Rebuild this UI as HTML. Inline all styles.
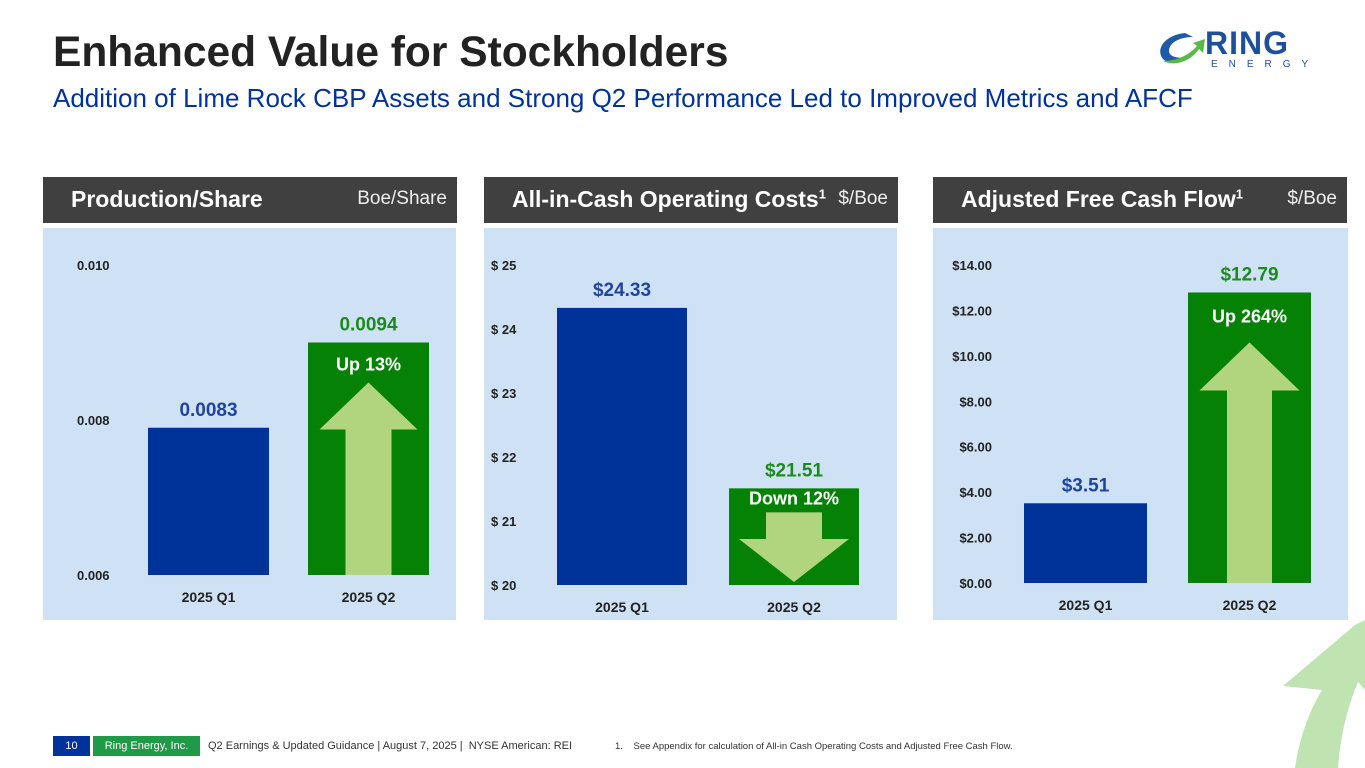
<!DOCTYPE html>
<html><head><meta charset="utf-8">
<style>
body{margin:0;width:1365px;height:768px;overflow:hidden;background:#fff;font-family:"Liberation Sans",sans-serif;position:relative}
.abs{position:absolute}
.hdr{position:absolute;top:177px;height:46px;background:#404040;color:#fff}
.hdr .t{position:absolute;left:28px;top:9px;font-size:23px;font-weight:bold}
.hdr .u{position:absolute;right:10px;top:11px;font-size:19px;color:#eee}
.hdr sup{font-size:13px}
.panel{position:absolute;top:228px;height:392px;background:#cfe2f5}
</style></head><body>
<div class="abs" style="left:53px;top:29px;font-size:42.5px;font-weight:bold;color:#222">Enhanced Value for Stockholders</div>
<div class="abs" style="left:53px;top:83px;font-size:26px;color:#003399">Addition of Lime Rock CBP Assets and Strong Q2 Performance Led to Improved Metrics and AFCF</div>
<div class="abs" style="left:1155px;top:27px;width:160px;height:45px">
<svg width="70" height="45" style="position:absolute;left:0;top:0"><path d="M30 6 C10 8 0 22 8 32 C14 38 26 36 34 30 C24 32 14 30 14 24 C14 16 24 10 38 10 Z" fill="#1e5aa8"/><path d="M8 34 C20 40 36 34 44 22 L48 26 L50 12 L38 16 L42 19 C34 28 22 34 8 34Z" fill="#5bb848"/></svg>
<div style="position:absolute;left:50px;top:-2px;font-size:32px;font-weight:bold;color:#1e4f9a;letter-spacing:1px">RING</div>
<div style="position:absolute;left:56px;top:32px;font-size:10px;color:#1e4f9a;letter-spacing:11px">ENERGY</div>
</div>

<div class="hdr" style="left:43px;width:414px"><span class="t">Production/Share</span><span class="u">Boe/Share</span></div>
<div class="hdr" style="left:484px;width:414px"><span class="t">All-in-Cash Operating Costs<sup>1</sup></span><span class="u">$/Boe</span></div>
<div class="hdr" style="left:933px;width:414px"><span class="t">Adjusted Free Cash Flow<sup>1</sup></span><span class="u">$/Boe</span></div>
<div class="panel" style="left:43px;width:413px"></div>
<div class="panel" style="left:484px;width:413px"></div>
<div class="panel" style="left:933px;width:415px"></div>

<svg id="charts" class="abs" style="left:0;top:0" width="1365" height="768" font-family="Liberation Sans, sans-serif"></svg>

<svg class="abs" style="left:1270px;top:620px" width="95" height="148"><path d="M85 5 L95 0 L95 70 L88 62 C76 90 70 120 68 148 L25 148 C30 115 40 90 52 70 L13 66 Z" fill="#b8e0a8" opacity="0.9"/></svg>

<div class="abs" style="left:53px;top:736px;width:37px;height:20px;background:#003399;color:#fff;font-size:11px;text-align:center;line-height:20px">10</div>
<div class="abs" style="left:93px;top:736px;width:107px;height:20px;background:#1f9a48;color:#fff;font-size:11px;text-align:center;line-height:20px">Ring Energy, Inc.</div>
<div class="abs" style="left:208px;top:740px;font-size:11px;color:#333">Q2 Earnings &amp; Updated Guidance | August 7, 2025 |&nbsp; NYSE American: REI</div>
<div class="abs" style="left:615px;top:741px;font-size:9.5px;color:#333">1.&nbsp;&nbsp;&nbsp; See Appendix for calculation of All-in Cash Operating Costs and Adjusted Free Cash Flow.</div>

<script>
const categories = ["2025 Q1", "2025 Q2"];
const prodValues = [0.0079, 0.0090];
const prodLabels = ["0.0083", "0.0094"];
const prodTicks = [0.006, 0.008, 0.010];
const prodTickLabels = ["0.006", "0.008", "0.010"];
const costValues = [24.33, 21.51];
const costLabels = ["$24.33", "$21.51"];
const costTicks = [20, 21, 22, 23, 24, 25];
const costTickLabels = ["$ 20", "$ 21", "$ 22", "$ 23", "$ 24", "$ 25"];
const afcfValues = [3.51, 12.79];
const afcfLabels = ["$3.51", "$12.79"];
const afcfTicks = [0, 2, 4, 6, 8, 10, 12, 14];
const afcfTickLabels = ["$0.00", "$2.00", "$4.00", "$6.00", "$8.00", "$10.00", "$12.00", "$14.00"];

const svg = document.getElementById('charts');
const NS = 'http://www.w3.org/2000/svg';
function mk(tag, attrs, txt){const e=document.createElementNS(NS,tag);for(const k in attrs)e.setAttribute(k,attrs[k]);if(txt!==undefined)e.textContent=txt;svg.appendChild(e);return e;}

function chart(cfg){
  const y = v => cfg.y0 - (v - cfg.min)/(cfg.max - cfg.min)*(cfg.y0 - cfg.y1);
  cfg.ticks.forEach((t,i)=>{
    const e=mk('text',{x:cfg.tickX,y:y(t)+5,'font-size':13,'font-weight':'bold',fill:'#222','text-anchor':cfg.anchor},cfg.tickLabels[i]);
    
    
  });
  cfg.values.forEach((v,i)=>{
    const x=cfg.barX[i], w=cfg.barW;
    const r=mk('rect',{x:x,y:y(v),width:w,height:cfg.y0-y(v),fill:i==0?'#003399':'#058205'});
    
    
    const l=mk('text',{x:x+w/2,y:y(v)-12,'font-size':19,'font-weight':'bold',fill:i==0?'#1f44a0':'#1d8a1d','text-anchor':'middle'},cfg.labels[i]);
    
    
    const c=mk('text',{x:x+w/2,y:cfg.y0+27,'font-size':14,'font-weight':'bold',fill:'#222','text-anchor':'middle'},categories[i]);
    
    
  });
  const x=cfg.barX[1], w=cfg.barW, cx=x+w/2, top=y(cfg.values[1]);
  let pts;
  if(cfg.dir==='up'){
    const ht=top+cfg.arrowTop, hb=ht+cfg.head, sw=cfg.shaft/2, hw=cfg.headW/2;
    pts=[[cx,ht],[cx+hw,hb],[cx+sw,hb],[cx+sw,cfg.y0],[cx-sw,cfg.y0],[cx-sw,hb],[cx-hw,hb]];
  } else {
    const st=top+cfg.arrowTop, hb=cfg.y0-3, ht=hb-cfg.head, sw=cfg.shaft/2, hw=cfg.headW/2;
    pts=[[cx-sw,st],[cx+sw,st],[cx+sw,ht],[cx+hw,ht],[cx,hb],[cx-hw,ht],[cx-sw,ht]];
  }
  const a=mk('polygon',{points:pts.map(p=>p.join(',')).join(' '),fill:'#b1d57f'});
  
  
  const t=mk('text',{x:cx,y:top+cfg.textDy,'font-size':18,fill:'#fff','text-anchor':'middle','font-weight':'bold'},cfg.change);
  
  
}

chart({id:'production',values:prodValues,labels:prodLabels,ticks:prodTicks,tickLabels:prodTickLabels,min:0.006,max:0.010,y0:575,y1:265,tickX:77,anchor:'start',barX:[148,308],barW:121,dir:'up',arrowTop:40,head:47,headW:98,shaft:46,textDy:28,change:'Up 13%'});
chart({id:'costs',values:costValues,labels:costLabels,ticks:costTicks,tickLabels:costTickLabels,min:20,max:25,y0:585,y1:265,tickX:491,anchor:'start',barX:[557,729],barW:130,dir:'down',arrowTop:24,head:43,headW:110,shaft:56,textDy:16,change:'Down 12%'});
chart({id:'afcf',values:afcfValues,labels:afcfLabels,ticks:afcfTicks,tickLabels:afcfTickLabels,min:0,max:14,y0:583,y1:265,tickX:992,anchor:'end',barX:[1024,1188],barW:123,dir:'up',arrowTop:50,head:48,headW:100,shaft:45,textDy:30,change:'Up 264%'});
</script>
</body></html>
